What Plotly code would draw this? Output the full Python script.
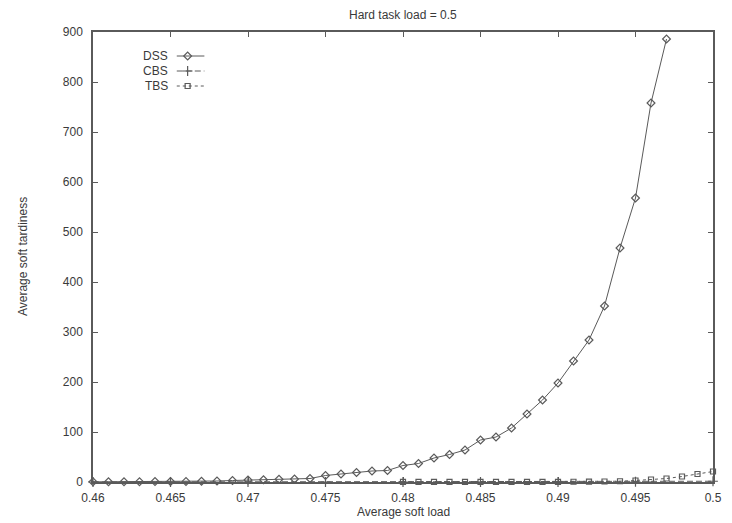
import plotly.graph_objects as go

# ---- data ----
dss_x = [0.460, 0.461, 0.462, 0.463, 0.464, 0.465, 0.466, 0.467, 0.468, 0.469,
         0.470, 0.471, 0.472, 0.473, 0.474, 0.475, 0.476, 0.477, 0.478, 0.479,
         0.480, 0.481, 0.482, 0.483, 0.484, 0.485, 0.486, 0.487, 0.488, 0.489,
         0.490, 0.491, 0.492, 0.493, 0.494, 0.495, 0.496, 0.497]
dss_y = [0.3, 0.4, 0.5, 0.6, 0.8, 1, 1.2, 1.5, 2, 3,
         4, 4.5, 5.5, 6, 7, 13, 16, 19, 22, 23,
         33, 37, 48, 55, 64, 84, 90, 108, 136, 164,
         198, 242, 284, 352, 468, 568, 758, 886]

cbs_x = [0.460, 0.465, 0.470, 0.475, 0.480, 0.485, 0.490, 0.495, 0.500]
cbs_y = [0, 0, 0, 0, 0, 0, 0, 0.5, 1.5]

tbs_x = [0.480, 0.481, 0.482, 0.483, 0.484, 0.485, 0.486, 0.487, 0.488, 0.489,
         0.490, 0.491, 0.492, 0.493, 0.494, 0.495, 0.496, 0.497, 0.498, 0.499, 0.500]
tbs_y = [0.2, 0.2, 0.2, 0.2, 0.2, 0.2, 0.2, 0.2, 0.3, 0.3,
         0.4, 0.5, 0.7, 1, 1.5, 3, 5, 7, 11, 16, 21]

x_ticks = [0.46, 0.465, 0.47, 0.475, 0.48, 0.485, 0.49, 0.495, 0.5]
x_tick_labels = ["0.46", "0.465", "0.47", "0.475", "0.48", "0.485", "0.49", "0.495", "0.5"]
y_ticks = [0, 100, 200, 300, 400, 500, 600, 700, 800, 900]
y_tick_labels = [str(v) for v in y_ticks]

series_names = ["DSS", "CBS", "TBS"]

# ---- style ----
W, H = 732, 523
L, R, T, B = 93, 10, 32, 41
PW, PH = W - L - R, H - T - B
LINE = "#5a5a5a"
TXT = "#3a3a3a"
FONT = "Liberation Sans, Arial, sans-serif"

styles = {
    "DSS": dict(dash="solid", symbol="diamond-open", size=6),
    "CBS": dict(dash="6px,3px", symbol="cross-thin-open", size=7),
    "TBS": dict(dash="3px,3px", symbol="square-open", size=5),
}

fig = go.Figure()
for name, xs, ys in [("DSS", dss_x, dss_y), ("CBS", cbs_x, cbs_y), ("TBS", tbs_x, tbs_y)]:
    st = styles[name]
    fig.add_trace(go.Scatter(
        x=xs, y=ys, mode="lines+markers", name=name, showlegend=False,
        line=dict(color=LINE, width=1, dash=st["dash"]),
        marker=dict(symbol=st["symbol"], size=st["size"], color=LINE,
                    line=dict(color=LINE, width=1.2)),
        cliponaxis=False,
    ))

# ---- custom gnuplot-style key (text then sample) on a pixel overlay axis ----
key_rows = [56, 71, 86]
for name, py in zip(series_names, key_rows):
    st = styles[name]
    fig.add_trace(go.Scatter(
        x=[178, 206], y=[py, py], xaxis="x2", yaxis="y2", mode="lines",
        showlegend=False, hoverinfo="skip",
        line=dict(color=LINE, width=1, dash=st["dash"]),
    ))
    fig.add_trace(go.Scatter(
        x=[189], y=[py], xaxis="x2", yaxis="y2", mode="markers",
        showlegend=False, hoverinfo="skip",
        marker=dict(symbol=st["symbol"], size=st["size"], color=LINE,
                    line=dict(color=LINE, width=1.2)),
    ))
    fig.add_annotation(x=171, y=py, xref="x2", yref="y2", text=name,
                       showarrow=False, xanchor="right", yanchor="middle",
                       font=dict(family=FONT, size=12, color=TXT))

axis_common = dict(showline=True, linecolor=LINE, linewidth=1.5, mirror="ticks",
                   ticks="inside", ticklen=5, tickwidth=1, tickcolor=LINE,
                   showgrid=False, zeroline=False,
                   tickfont=dict(family=FONT, size=12, color=TXT))

fig.update_layout(
    width=W, height=H,
    margin=dict(l=L, r=R, t=T, b=B),
    paper_bgcolor="white", plot_bgcolor="white",
    xaxis=dict(range=[0.46, 0.5], tickvals=x_ticks, ticktext=x_tick_labels,
               ticklabelstandoff=4, **axis_common),
    yaxis=dict(range=[0, 900], tickvals=y_ticks, ticktext=y_tick_labels,
               ticklabelstandoff=6, **axis_common),
    xaxis2=dict(range=[L, L + PW], overlaying="x", visible=False, fixedrange=True),
    yaxis2=dict(range=[T + PH, T], overlaying="y", visible=False, fixedrange=True),
    showlegend=False,
)

fig.add_annotation(text="Hard task load = 0.5", xref="paper", yref="paper",
                   x=0.5, y=1 + (T - 15) / PH, showarrow=False,
                   xanchor="center", yanchor="middle",
                   font=dict(family=FONT, size=12, color=TXT))
fig.add_annotation(text="Average soft load", xref="paper", yref="paper",
                   x=0.5, y=-(512 - (T + PH)) / PH, showarrow=False,
                   xanchor="center", yanchor="middle",
                   font=dict(family=FONT, size=12, color=TXT))
fig.add_annotation(text="Average soft tardiness", xref="paper", yref="paper",
                   x=-(L - 22) / PW, y=0.5, showarrow=False, textangle=-90,
                   xanchor="center", yanchor="middle",
                   font=dict(family=FONT, size=12, color=TXT))

fig.write_html("out.html")
